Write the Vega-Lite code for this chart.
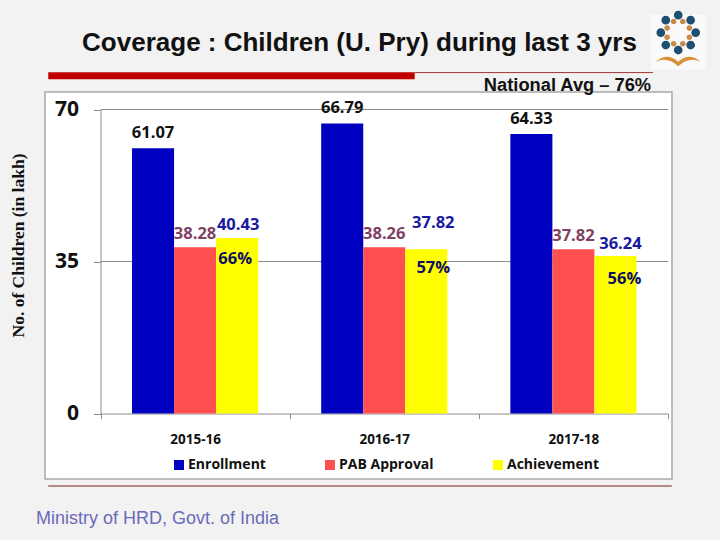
{
  "$schema": "https://vega.github.io/schema/vega-lite/v6.json",
  "description": "Coverage of upper primary children over three years: enrollment, PAB approval and achievement.",
  "width": 627,
  "height": 387,
  "autosize": "none",
  "padding": {"left": 45, "top": 92, "right": 48, "bottom": 61},
  "background": "#f2f2f2",
  "view": {"fill": "white", "stroke": "#a8a8a8", "strokeWidth": 1.5},
  "title": {
    "text": "Coverage : Children (U. Pry) during last 3 yrs",
    "font": "Liberation Sans",
    "fontSize": 26,
    "fontWeight": "bold",
    "color": "#111111",
    "anchor": "middle",
    "frame": "group",
    "offset": 0,
    "dy": 45,
    "dx": 1
  },
  "datasets": {
    "rows": [
      {"year": "2015-16", "series": "Enrollment", "value": 61.07},
      {"year": "2015-16", "series": "PAB Approval", "value": 38.28},
      {"year": "2015-16", "series": "Achievement", "value": 40.43, "pct": "66%"},
      {"year": "2016-17", "series": "Enrollment", "value": 66.79},
      {"year": "2016-17", "series": "PAB Approval", "value": 38.26},
      {"year": "2016-17", "series": "Achievement", "value": 37.82, "pct": "57%"},
      {"year": "2017-18", "series": "Enrollment", "value": 64.33},
      {"year": "2017-18", "series": "PAB Approval", "value": 37.82},
      {"year": "2017-18", "series": "Achievement", "value": 36.24, "pct": "56%"}
    ],
    "gridlines": [{"tick": 35}, {"tick": 70}]
  },
  "resolve": {"scale": {"x": "independent"}, "axis": {"x": "independent"}},
  "layer": [
    {
      "layer": [
        {
          "data": {"name": "gridlines"},
          "mark": {"type": "rule", "color": "#8c8c8c", "strokeWidth": 1},
          "encoding": {
            "x": {"datum": 14, "type": "quantitative", "axis": null, "scale": {"domain": [0, 100], "range": [-45, 675], "nice": false, "zero": false}},
            "x2": {"datum": 92.8},
            "y": {
              "field": "tick",
              "type": "quantitative",
              "scale": {"domain": [0, 70], "range": [321.5, 17.5], "nice": false},
              "axis": {
                "title": "No. of Children (in lakh)",
                "titleFont": "Liberation Serif",
                "titleFontSize": 17.5,
                "titleFontWeight": "bold",
                "titleColor": "#111111",
                "titleX": -73,
                "titleY": 153,
                "offset": -55.5,
                "values": [0, 35, 70],
                "grid": false,
                "tickSize": 7,
                "tickColor": "#8c8c8c",
                "domainColor": "#8c8c8c",
                "labelPadding": 15,
                "labelFont": "Open Sans",
                "labelFontSize": 21,
                "labelFontWeight": "bold",
                "labelColor": "#111111"
              }
            }
          }
        },
        {
          "data": {"values": [{"part": "logo"}]},
          "mark": {"type": "point", "shape": "square", "filled": true, "color": "#fafafa", "opacity": 1, "size": 3000, "clip": false},
          "encoding": {"x": {"datum": 94.2}, "y": {"datum": 85.5}}
        },
        {
          "data": {"values": [{"part": "logo"}]},
          "mark": {"type": "point", "filled": true, "opacity": 1, "color": "#1d4f73", "size": 1900, "clip": false,
            "shape": "M0.6 0a0.2 0.2 0 1 0 0.4 0a0.2 0.2 0 1 0 -0.4 0M0.37 0.57a0.2 0.2 0 1 0 0.4 0a0.2 0.2 0 1 0 -0.4 0M-0.2 0.8a0.2 0.2 0 1 0 0.4 0a0.2 0.2 0 1 0 -0.4 0M-0.77 0.57a0.2 0.2 0 1 0 0.4 0a0.2 0.2 0 1 0 -0.4 0M-1 0a0.2 0.2 0 1 0 0.4 0a0.2 0.2 0 1 0 -0.4 0M-0.77 -0.57a0.2 0.2 0 1 0 0.4 0a0.2 0.2 0 1 0 -0.4 0M-0.2 -0.8a0.2 0.2 0 1 0 0.4 0a0.2 0.2 0 1 0 -0.4 0M0.37 -0.57a0.2 0.2 0 1 0 0.4 0a0.2 0.2 0 1 0 -0.4 0"},
          "encoding": {"x": {"datum": 94.2}, "y": {"datum": 87.7}}
        },
        {
          "data": {"values": [{"part": "logo"}]},
          "mark": {"type": "point", "filled": true, "opacity": 1, "color": "#c98a45", "size": 1900, "clip": false,
            "shape": "M0.38 0.21a0.13 0.13 0 1 0 0.26 0a0.13 0.13 0 1 0 -0.26 0M0.08 0.51a0.13 0.13 0 1 0 0.26 0a0.13 0.13 0 1 0 -0.26 0M-0.34 0.51a0.13 0.13 0 1 0 0.26 0a0.13 0.13 0 1 0 -0.26 0M-0.64 0.21a0.13 0.13 0 1 0 0.26 0a0.13 0.13 0 1 0 -0.26 0M-0.64 -0.21a0.13 0.13 0 1 0 0.26 0a0.13 0.13 0 1 0 -0.26 0M-0.34 -0.51a0.13 0.13 0 1 0 0.26 0a0.13 0.13 0 1 0 -0.26 0M0.08 -0.51a0.13 0.13 0 1 0 0.26 0a0.13 0.13 0 1 0 -0.26 0M0.38 -0.21a0.13 0.13 0 1 0 0.26 0a0.13 0.13 0 1 0 -0.26 0"},
          "encoding": {"x": {"datum": 94.2}, "y": {"datum": 87.7}}
        },
        {
          "data": {"values": [{"part": "logo"}]},
          "mark": {"type": "point", "filled": true, "opacity": 1, "color": "#d9913c", "size": 2000, "clip": false,
            "shape": "M-1 0.1Q-0.5 -0.35 0 0.1Q0.5 -0.35 1 0.1Q0.5 -0.15 0 0.3Q-0.5 -0.15 -1 0.1Z"},
          "encoding": {"x": {"datum": 94.2}, "y": {"datum": 81.5}}
        },
        {
          "data": {"values": [{"part": "header bar"}]},
          "mark": {"type": "rule", "color": "#c00000", "strokeWidth": 7, "clip": false},
          "encoding": {"x": {"datum": 6.7}, "x2": {"datum": 57.6}, "y": {"datum": 77.8}}
        },
        {
          "data": {"values": [{"part": "header line"}]},
          "mark": {"type": "rule", "color": "#a83232", "strokeWidth": 1, "clip": false},
          "encoding": {"x": {"datum": 57.6}, "x2": {"datum": 90.7}, "y": {"datum": 78.5}}
        },
        {
          "data": {"values": [{"part": "footer line"}]},
          "mark": {"type": "rule", "color": "#7a1f1f", "strokeWidth": 1, "clip": false},
          "encoding": {"x": {"datum": 6.7}, "x2": {"datum": 93.3}, "y": {"datum": -16.7}}
        },
        {
          "data": {"values": [{"note": "National Avg – 76%"}]},
          "mark": {"type": "text", "font": "Liberation Sans", "fontSize": 18.3, "fontWeight": "bold", "color": "#111111", "align": "left", "baseline": "middle", "clip": false},
          "encoding": {"x": {"datum": 67.2}, "y": {"datum": 75.4}, "text": {"field": "note"}}
        },
        {
          "data": {"values": [{"note": "Ministry of HRD, Govt. of India"}]},
          "mark": {"type": "text", "font": "Liberation Sans", "fontSize": 18, "color": "#6a6ab8", "align": "left", "baseline": "middle", "clip": false},
          "encoding": {"x": {"datum": 5}, "y": {"datum": -24.4}, "text": {"field": "note"}}
        }
      ]
    },
    {
      "data": {"name": "rows"},
      "encoding": {
        "x": {
          "field": "year",
          "type": "nominal",
          "scale": {"range": [55.5, 623], "paddingInner": 0, "paddingOuter": 0},
          "axis": {
            "orient": "bottom",
            "title": null,
            "labelAngle": 0,
            "offset": -65.5,
            "tickBand": "extent",
            "tickSize": 5,
            "tickColor": "#8c8c8c",
            "domainColor": "#8c8c8c",
            "labelPadding": 14,
            "labelFont": "Open Sans",
            "labelFontSize": 13.5,
            "labelFontWeight": "bold",
            "labelColor": "#111111"
          }
        },
        "xOffset": {
          "field": "series",
          "type": "nominal",
          "sort": ["Enrollment", "PAB Approval", "Achievement"],
          "scale": {"paddingInner": 0, "paddingOuter": 0.75}
        },
        "y": {"field": "value", "type": "quantitative"}
      },
      "layer": [
        {
          "mark": {"type": "bar"},
          "encoding": {
            "color": {
              "field": "series",
              "type": "nominal",
              "sort": ["Enrollment", "PAB Approval", "Achievement"],
              "scale": {"domain": ["Enrollment", "PAB Approval", "Achievement"], "range": ["#0000c0", "#ff5050", "#ffff00"]},
              "legend": {
                "title": null,
                "orient": "none",
                "direction": "horizontal",
                "legendX": 127,
                "legendY": 366,
                "columnPadding": 57,
                "symbolType": "square",
                "symbolSize": 100,
                "symbolStrokeWidth": 0,
                "labelFont": "Open Sans",
                "labelFontSize": 14,
                "labelFontWeight": "bold",
                "labelColor": "#111111",
                "labelOffset": 2
              }
            }
          }
        },
        {
          "transform": [{"filter": "datum.series === 'Enrollment'"}],
          "mark": {"type": "text", "font": "Open Sans", "fontSize": 16.5, "fontWeight": "bold", "color": "#111111", "baseline": "bottom", "dy": -7},
          "encoding": {"text": {"field": "value", "format": ".2f"}}
        },
        {
          "transform": [{"filter": "datum.series === 'PAB Approval'"}],
          "mark": {"type": "text", "font": "Open Sans", "fontSize": 16.5, "fontWeight": "bold", "color": "#7f3f64", "baseline": "bottom", "dy": -5},
          "encoding": {"text": {"field": "value", "format": ".2f"}}
        },
        {
          "transform": [{"filter": "datum.series === 'Achievement' && datum.year === '2015-16'"}],
          "mark": {"type": "text", "font": "Open Sans", "fontSize": 16.5, "fontWeight": "bold", "color": "#1a1aa0", "baseline": "bottom", "dy": -5, "dx": 1},
          "encoding": {"text": {"field": "value", "format": ".2f"}}
        },
        {
          "transform": [{"filter": "datum.series === 'Achievement' && datum.year === '2016-17'"}],
          "mark": {"type": "text", "font": "Open Sans", "fontSize": 16.5, "fontWeight": "bold", "color": "#1a1aa0", "baseline": "bottom", "dy": -18, "dx": 7},
          "encoding": {"text": {"field": "value", "format": ".2f"}}
        },
        {
          "transform": [{"filter": "datum.series === 'Achievement' && datum.year === '2017-18'"}],
          "mark": {"type": "text", "font": "Open Sans", "fontSize": 16.5, "fontWeight": "bold", "color": "#1a1aa0", "baseline": "bottom", "dy": -4, "dx": 5},
          "encoding": {"text": {"field": "value", "format": ".2f"}}
        },
        {
          "transform": [{"filter": "datum.pct && datum.year === '2015-16'"}],
          "mark": {"type": "text", "font": "Open Sans", "fontSize": 16.5, "fontWeight": "bold", "color": "#101060", "baseline": "middle", "dy": 21, "dx": -2},
          "encoding": {"text": {"field": "pct"}}
        },
        {
          "transform": [{"filter": "datum.pct && datum.year === '2016-17'"}],
          "mark": {"type": "text", "font": "Open Sans", "fontSize": 16.5, "fontWeight": "bold", "color": "#101060", "baseline": "middle", "dy": 19, "dx": 7},
          "encoding": {"text": {"field": "pct"}}
        },
        {
          "transform": [{"filter": "datum.pct && datum.year === '2017-18'"}],
          "mark": {"type": "text", "font": "Open Sans", "fontSize": 16.5, "fontWeight": "bold", "color": "#101060", "baseline": "middle", "dy": 23, "dx": 9},
          "encoding": {"text": {"field": "pct"}}
        }
      ]
    }
  ]
}
